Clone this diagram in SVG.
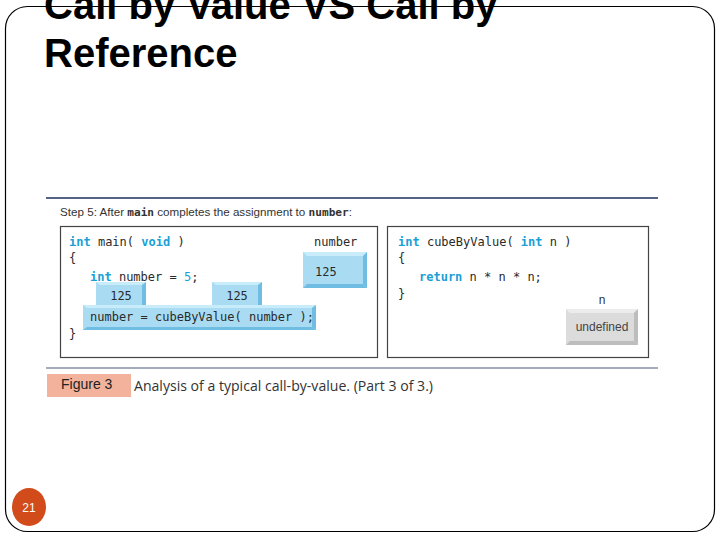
<svg xmlns="http://www.w3.org/2000/svg" width="720" height="540" viewBox="0 0 720 540">
<style>
.code{font-family:"DejaVu Sans Mono","Liberation Mono",monospace;font-size:12px;fill:#2a2a2a}
.kw{fill:#1a9fd6;font-weight:bold}
.num{fill:#1a9fd6}
.title{font-family:"Liberation Sans",Arial,sans-serif;font-size:40px;font-weight:bold;fill:#000}
.sans{font-family:"Liberation Sans",Arial,sans-serif}
.cap{font-family:"Open Sans","Liberation Sans",sans-serif;font-size:14.5px;fill:#333}
.bf{fill:#a9dcf3}
.bl{fill:#c9ecfb}
.bd{fill:#6fbde3}
.gf{fill:#dcdcdc}
.gl{fill:#ececec}
.gd{fill:#bdbdbd}
</style>
<rect x="0" y="0" width="720" height="540" fill="#fff"/>
<rect id="slide" x="5.5" y="6.5" width="709" height="525" rx="22" ry="22" fill="none" stroke="#000" stroke-width="1.2"/>
<g id="title">
<text class="title" x="44" y="19">Call by Value VS Call by</text>
<text class="title" x="44" y="67">Reference</text>
</g>
<g id="figure">
<line x1="46" y1="198" x2="658" y2="198" stroke="#1e2f5e" stroke-width="1.3"/>
<text x="60" y="216" class="sans" font-size="11.5" fill="#333" textLength="292" lengthAdjust="spacingAndGlyphs">Step 5: After <tspan font-family="DejaVu Sans Mono,monospace" font-weight="bold" font-size="11">main</tspan> completes the assignment to <tspan font-family="DejaVu Sans Mono,monospace" font-weight="bold" font-size="11">number</tspan>:</text>
<line x1="46" y1="368" x2="658" y2="368" stroke="#a3abbd" stroke-width="2.2"/>
</g>
<g id="main-box">
<rect x="60.5" y="226.5" width="317" height="131" fill="#fff" stroke="#444" stroke-width="1.2"/>
<text class="code" x="69" y="246"><tspan class="kw">int</tspan> main( <tspan class="kw">void</tspan> )</text>
<text class="code" x="69" y="262">{</text>
<text class="code" x="90" y="281"><tspan class="kw">int</tspan> number = <tspan class="num">5</tspan>;</text>
<text class="code" x="69" y="338">}</text>
<text class="code" x="314" y="246">number</text>
</g>
<g id="number-var">
<rect class="bf" x="303" y="252" width="64" height="36"/>
<polygon class="bl" points="303,252 367,252 363,256 307,256"/>
<polygon class="bd" points="367,252 367,288 363,284 363,256"/>
<polygon class="bd" points="303,288 367,288 363,284 307,284"/>
<text class="code" x="315" y="276">125</text>
</g>
<g id="call-expr">
<rect class="bf" x="83" y="305" width="233" height="25"/>
<polygon class="bl" points="83,305 316,305 312,308 87,308"/>
<polygon class="bd" points="316,305 316,330 312,327 312,308"/>
<polygon class="bd" points="83,330 316,330 312,327 87,327"/>
<text class="code" x="90" y="321">number = cubeByValue( number );</text>
</g>
<g id="val-1">
<rect class="bf" x="96" y="282" width="50" height="23"/>
<polygon class="bl" points="96,282 146,282 142,285 100,285"/>
<polygon class="bd" points="146,282 146,305 142,305 142,285"/>
<text class="code" x="121" y="300" text-anchor="middle">125</text>
</g>
<g id="val-2">
<rect class="bf" x="212" y="282" width="50" height="23"/>
<polygon class="bl" points="212,282 262,282 258,285 216,285"/>
<polygon class="bd" points="262,282 262,305 258,305 258,285"/>
<text class="code" x="237" y="300" text-anchor="middle">125</text>
</g>
<g id="cube-box">
<rect x="387.5" y="226.5" width="261" height="131" fill="#fff" stroke="#444" stroke-width="1.2"/>
<text class="code" x="398" y="246"><tspan class="kw">int</tspan> cubeByValue( <tspan class="kw">int</tspan> n )</text>
<text class="code" x="398" y="262">{</text>
<text class="code" x="419" y="281"><tspan class="kw">return</tspan> n * n * n;</text>
<text class="code" x="398" y="298">}</text>
<text class="sans" x="602" y="304" font-size="12" fill="#333" text-anchor="middle">n</text>
</g>
<g id="n-var">
<rect class="gf" x="566" y="309" width="72" height="36"/>
<polygon class="gl" points="566,309 638,309 634,313 570,313"/>
<polygon class="gd" points="638,309 638,345 634,341 634,313"/>
<polygon class="gd" points="566,345 638,345 634,341 570,341"/>
<text class="sans" x="602" y="331" font-size="12" fill="#444" text-anchor="middle">undefined</text>
</g>
<g id="caption">
<rect x="47" y="374" width="84" height="23" fill="#f2b29c"/>
<text class="sans" x="61" y="389" font-size="14" fill="#222">Figure 3</text>
<text class="cap" x="134" y="391" textLength="299" lengthAdjust="spacingAndGlyphs">Analysis of a typical call-by-value. (Part 3 of 3.)</text>
</g>
<g id="page-number">
<ellipse cx="29" cy="507" rx="17" ry="19" fill="#d14b1b"/>
<text class="sans" x="29" y="511.5" font-size="12" fill="#fff" text-anchor="middle">21</text>
</g>
</svg>
